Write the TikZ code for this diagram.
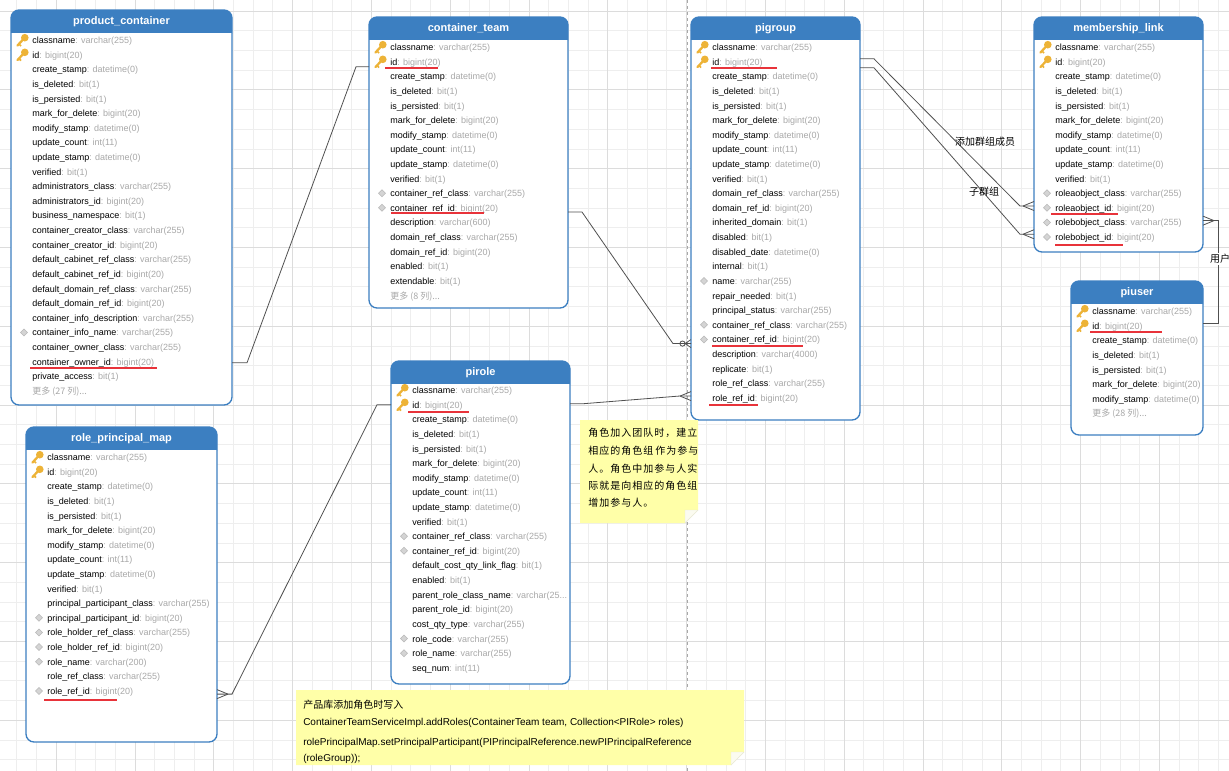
\documentclass[tikz,border=0pt]{standalone}
\usepackage{fontspec}
\setmainfont{Liberation Sans}
\newfontfamily\cjk{Noto Sans CJK SC}
\newfontfamily\cjksp[LetterSpace=10]{Noto Sans CJK SC}
\usetikzlibrary{calc}

\definecolor{erblue}{HTML}{3C7FC1}
\definecolor{typegrey}{HTML}{A8A8A8}
\definecolor{keygold}{HTML}{EDB337}
\definecolor{idxgrey}{HTML}{D4D4D4}
\definecolor{idxedge}{HTML}{B8B8B8}
\definecolor{notefill}{HTML}{FFFFA8}
\definecolor{notefold}{HTML}{FBFBF0}
\definecolor{linkgrey}{HTML}{505050}
\definecolor{ulred}{HTML}{E8333A}
\definecolor{gridminor}{HTML}{EEEEEE}
\definecolor{gridmajor}{HTML}{DCDCDC}
\definecolor{pagedash}{HTML}{A8A8A8}

\tikzset{
  rowtext/.style={anchor=mid west, inner sep=0pt, font=\fontsize{6.75pt}{8pt}\selectfont, text=black},
  tabletitle/.style={inner sep=0pt, font=\fontsize{8.25pt}{10pt}\selectfont\bfseries, text=white},
  conn/.style={draw=linkgrey, line width=0.6pt},
  redline/.style={draw=ulred, line width=1.5pt},
  notetext/.style={anchor=mid west, inner sep=0pt, font=\fontsize{7.5pt}{9pt}\selectfont, text=black},
  notecjk/.style={anchor=mid west, inner sep=0pt, font=\cjksp\fontsize{7.5pt}{9pt}\selectfont, text=black},
  edgelabel/.style={inner sep=1pt, font=\cjk\fontsize{7.5pt}{9pt}\selectfont, text=black},
}

% ---------- table frame: name, left, top, right, bottom, header bottom, title
\newcommand\ertable[7]{%
  \begin{scope}
    \clip (#2-2,#3-2) rectangle (#4+2,#6);
    \fill[erblue, rounded corners=6pt] (#2,#3) rectangle (#4,#5);
  \end{scope}
  \begin{scope}
    \clip (#2-2,#6) rectangle (#4+2,#5+2);
    \fill[white, rounded corners=6pt] (#2,#3) rectangle (#4,#5);
  \end{scope}
  \draw[erblue, line width=1pt, rounded corners=6pt] (#2,#3) rectangle (#4,#5);
  \node[inner sep=0pt, outer sep=0pt, minimum width={(#4-#2)*0.75pt},
        minimum height={(#5-#3)*0.75pt}, anchor=north west] (#1) at (#2,#3) {};
  \node[tabletitle] (#1-title) at ({(#2+#4)/2},{(#3+#6)/2}) {#7};
}

% ---------- rows
\newcounter{erow}
\newcommand\tblstart[3]{\gdef\tname{#1}\gdef\tleft{#2}\gdef\ttop{#3}\setcounter{erow}{0}}
\newcommand\rowat{\pgfmathsetmacro\ry{\ttop+\arabic{erow}*14.62}}
\newcommand\rowtxt[2]{%
  \node[rowtext] (\tname-\arabic{erow}) at (\tleft+21,\ry) {#1{\color{typegrey}: #2}};%
  \stepcounter{erow}}
\newcommand\keyicon[2]{%
  \draw[keygold, line width=1.7pt, line cap=round] (#1+12.5,#2-1) -- (#1+6.5,#2+5.5);
  \draw[keygold, line width=1.2pt] (#1+8,#2+4) -- (#1+10,#2+6);
  \fill[keygold] (#1+13.8,#2-2.3) circle[radius=3.8];}
\newcommand\idxicon[2]{%
  \filldraw[fill=idxgrey, draw=idxedge, line width=0.4pt]
    (#1+13,#2-3.5) -- (#1+16.5,#2) -- (#1+13,#2+3.5) -- (#1+9.5,#2) -- cycle;}
\newcommand\rowK[2]{\rowat\keyicon{\tleft}{\ry}\rowtxt{#1}{#2}}
\newcommand\rowD[2]{\rowat\idxicon{\tleft}{\ry}\rowtxt{#1}{#2}}
\newcommand\rowN[2]{\rowat\rowtxt{#1}{#2}}
\newcommand\rowM[1]{\rowat
  \node[rowtext, text=typegrey] (\tname-\arabic{erow}) at (\tleft+21,\ry) {\cjk #1};%
  \stepcounter{erow}}

% ---------- red underline under a row: row node, x offset, length, y offset
\newcommand\uline[4]{\draw[redline] (#1.mid west) ++(#2,#4) -- ++(#3,0);}

% ---------- crow's feet
\newcommand\crowleft[1]{\draw[conn] ($(#1)+(-11,0)$) -- ($(#1)+(0,-4.5)$)
  ($(#1)+(-11,0)$) -- ($(#1)+(0,4.5)$);}
\newcommand\crowright[1]{\draw[conn] ($(#1)+(11,0)$) -- ($(#1)+(0,-4.5)$)
  ($(#1)+(11,0)$) -- ($(#1)+(0,4.5)$);}

\begin{document}
\catcode`\_=12
\begin{tikzpicture}[x=0.75pt,y=-0.75pt]
\useasboundingbox (0,0) rectangle (1229,771);
\fill[white] (0,0) rectangle (1229,771);

% background grid
\foreach \i in {0,...,62} {\draw[gridminor, line width=0.6pt] (16.7+\i*19.7,0) -- (16.7+\i*19.7,771);}
\foreach \i in {0,...,39} {\draw[gridminor, line width=0.6pt] (0,11+\i*19.7) -- (1229,11+\i*19.7);}
\foreach \i in {0,...,15} {\draw[gridmajor, line width=0.6pt] (56.1+\i*78.8,0) -- (56.1+\i*78.8,771);}
\foreach \i in {0,...,9} {\draw[gridmajor, line width=0.6pt] (0,11+\i*78.8) -- (1229,11+\i*78.8);}

% page break
\draw[pagedash, line width=0.6pt, dash pattern=on 2.5pt off 2pt] (687,0) -- (687,771);

% ================= product_container
\ertable{pc}{11}{10}{232}{405}{33}{product_container}
\tblstart{pc}{11}{40}
\rowK{classname}{varchar(255)}
\rowK{id}{bigint(20)}
\rowN{create_stamp}{datetime(0)}
\rowN{is_deleted}{bit(1)}
\rowN{is_persisted}{bit(1)}
\rowN{mark_for_delete}{bigint(20)}
\rowN{modify_stamp}{datetime(0)}
\rowN{update_count}{int(11)}
\rowN{update_stamp}{datetime(0)}
\rowN{verified}{bit(1)}
\rowN{administrators_class}{varchar(255)}
\rowN{administrators_id}{bigint(20)}
\rowN{business_namespace}{bit(1)}
\rowN{container_creator_class}{varchar(255)}
\rowN{container_creator_id}{bigint(20)}
\rowN{default_cabinet_ref_class}{varchar(255)}
\rowN{default_cabinet_ref_id}{bigint(20)}
\rowN{default_domain_ref_class}{varchar(255)}
\rowN{default_domain_ref_id}{bigint(20)}
\rowN{container_info_description}{varchar(255)}
\rowD{container_info_name}{varchar(255)}
\rowN{container_owner_class}{varchar(255)}
\rowN{container_owner_id}{bigint(20)}
\rowN{private_access}{bit(1)}
\rowM{更多 (27 列)...}

% ================= container_team
\ertable{ct}{369}{17}{568}{308}{40}{container_team}
\tblstart{ct}{369}{47}
\rowK{classname}{varchar(255)}
\rowK{id}{bigint(20)}
\rowN{create_stamp}{datetime(0)}
\rowN{is_deleted}{bit(1)}
\rowN{is_persisted}{bit(1)}
\rowN{mark_for_delete}{bigint(20)}
\rowN{modify_stamp}{datetime(0)}
\rowN{update_count}{int(11)}
\rowN{update_stamp}{datetime(0)}
\rowN{verified}{bit(1)}
\rowD{container_ref_class}{varchar(255)}
\rowD{container_ref_id}{bigint(20)}
\rowN{description}{varchar(600)}
\rowN{domain_ref_class}{varchar(255)}
\rowN{domain_ref_id}{bigint(20)}
\rowN{enabled}{bit(1)}
\rowN{extendable}{bit(1)}
\rowM{更多 (8 列)...}

% ================= pigroup
\ertable{pg}{691}{17}{860}{420}{40}{pigroup}
\tblstart{pg}{691}{47}
\rowK{classname}{varchar(255)}
\rowK{id}{bigint(20)}
\rowN{create_stamp}{datetime(0)}
\rowN{is_deleted}{bit(1)}
\rowN{is_persisted}{bit(1)}
\rowN{mark_for_delete}{bigint(20)}
\rowN{modify_stamp}{datetime(0)}
\rowN{update_count}{int(11)}
\rowN{update_stamp}{datetime(0)}
\rowN{verified}{bit(1)}
\rowN{domain_ref_class}{varchar(255)}
\rowN{domain_ref_id}{bigint(20)}
\rowN{inherited_domain}{bit(1)}
\rowN{disabled}{bit(1)}
\rowN{disabled_date}{datetime(0)}
\rowN{internal}{bit(1)}
\rowD{name}{varchar(255)}
\rowN{repair_needed}{bit(1)}
\rowN{principal_status}{varchar(255)}
\rowD{container_ref_class}{varchar(255)}
\rowD{container_ref_id}{bigint(20)}
\rowN{description}{varchar(4000)}
\rowN{replicate}{bit(1)}
\rowN{role_ref_class}{varchar(255)}
\rowN{role_ref_id}{bigint(20)}

% ================= membership_link
\ertable{ml}{1034}{17}{1203}{252}{40}{membership_link}
\tblstart{ml}{1034}{47}
\rowK{classname}{varchar(255)}
\rowK{id}{bigint(20)}
\rowN{create_stamp}{datetime(0)}
\rowN{is_deleted}{bit(1)}
\rowN{is_persisted}{bit(1)}
\rowN{mark_for_delete}{bigint(20)}
\rowN{modify_stamp}{datetime(0)}
\rowN{update_count}{int(11)}
\rowN{update_stamp}{datetime(0)}
\rowN{verified}{bit(1)}
\rowD{roleaobject_class}{varchar(255)}
\rowD{roleaobject_id}{bigint(20)}
\rowD{rolebobject_class}{varchar(255)}
\rowD{rolebobject_id}{bigint(20)}

% ================= piuser
\ertable{pu}{1071}{281}{1203}{435}{304}{piuser}
\tblstart{pu}{1071}{311}
\rowK{classname}{varchar(255)}
\rowK{id}{bigint(20)}
\rowN{create_stamp}{datetime(0)}
\rowN{is_deleted}{bit(1)}
\rowN{is_persisted}{bit(1)}
\rowN{mark_for_delete}{bigint(20)}
\rowN{modify_stamp}{datetime(0)}
\rowM{更多 (28 列)...}

% ================= role_principal_map
\ertable{rp}{26}{427}{217}{742}{450}{role_principal_map}
\tblstart{rp}{26}{457}
\rowK{classname}{varchar(255)}
\rowK{id}{bigint(20)}
\rowN{create_stamp}{datetime(0)}
\rowN{is_deleted}{bit(1)}
\rowN{is_persisted}{bit(1)}
\rowN{mark_for_delete}{bigint(20)}
\rowN{modify_stamp}{datetime(0)}
\rowN{update_count}{int(11)}
\rowN{update_stamp}{datetime(0)}
\rowN{verified}{bit(1)}
\rowN{principal_participant_class}{varchar(255)}
\rowD{principal_participant_id}{bigint(20)}
\rowD{role_holder_ref_class}{varchar(255)}
\rowD{role_holder_ref_id}{bigint(20)}
\rowD{role_name}{varchar(200)}
\rowN{role_ref_class}{varchar(255)}
\rowD{role_ref_id}{bigint(20)}

% ================= pirole
\ertable{pr}{391}{361}{570}{684}{384}{pirole}
\tblstart{pr}{391}{390}
\rowK{classname}{varchar(255)}
\rowK{id}{bigint(20)}
\rowN{create_stamp}{datetime(0)}
\rowN{is_deleted}{bit(1)}
\rowN{is_persisted}{bit(1)}
\rowN{mark_for_delete}{bigint(20)}
\rowN{modify_stamp}{datetime(0)}
\rowN{update_count}{int(11)}
\rowN{update_stamp}{datetime(0)}
\rowN{verified}{bit(1)}
\rowD{container_ref_class}{varchar(255)}
\rowD{container_ref_id}{bigint(20)}
\rowN{default_cost_qty_link_flag}{bit(1)}
\rowN{enabled}{bit(1)}
\rowN{parent_role_class_name}{varchar(25...}
\rowN{parent_role_id}{bigint(20)}
\rowN{cost_qty_type}{varchar(255)}
\rowD{role_code}{varchar(255)}
\rowD{role_name}{varchar(255)}
\rowN{seq_num}{int(11)}

% ================= key columns marked in red
\uline{pc-22}{-2}{127}{6}
\uline{ct-1}{-5}{53}{6}
\uline{ct-11}{1}{93}{5}
\uline{pg-1}{-1}{66}{6}
\uline{pg-20}{0}{91}{7}
\uline{pg-24}{-3}{49}{7}
\uline{ml-11}{-4}{67}{6}
\uline{ml-13}{0}{68}{8}
\uline{pu-1}{-2}{72}{6}
\uline{rp-16}{-3}{73}{9}
\uline{pr-1}{-4}{61}{7}

% ================= relations
% product_container.container_owner_id -- container_team.id
\coordinate (a1) at (pc.east |- pc-22);
\coordinate (a2) at ($(ct.west |- ct-1)+(0,4)$);
\draw[conn] (a1) -- ++(15,0) -- ($(a2)+(-13,0)$) -- (a2);

% container_team.container_ref_id -- pigroup.container_ref_id
\coordinate (b1) at ($(ct.east |- ct-11)+(0,3)$);
\coordinate (b2) at ($(pg.west |- pg-20)+(0,3)$);
\draw[conn] (b1) -- ++(14,0) -- ($(b2)+(-18,0)$) -- (b2);
\draw[conn] ($(b2)+(-8.5,0)$) circle[radius=2.6];
\draw[conn] ($(b2)+(-6,0)$) -- ($(b2)+(0,-4)$) ($(b2)+(-6,0)$) -- ($(b2)+(0,4)$);

% pirole.id -- pigroup.role_ref_id
\coordinate (c1) at ($(pr.east |- pr-1)+(0,-2)$);
\coordinate (c2) at ($(pg.west |- pg-24)+(0,-3)$);
\draw[conn] (c1) -- ++(12,0) -- ($(c2)+(-12,0)$) -- (c2);
\crowleft{c2}

% role_principal_map.role_ref_id -- pirole.id
\coordinate (d1) at ($(rp.east |- rp-16)+(0,2)$);
\coordinate (d2) at ($(pr.west |- pr-1)+(0,-1)$);
\draw[conn] (d1) -- ++(15,0) -- ($(d2)+(-14,0)$) -- (d2);
\crowright{d1}

% pigroup.id -- membership_link.roleaobject_id / rolebobject_id
\coordinate (e1) at ($(pg.east |- pg-1)+(0,-4)$);
\coordinate (e2) at ($(pg.east |- pg-1)+(0,5)$);
\coordinate (e3) at ($(ml.west |- ml-11)+(0,-3)$);
\coordinate (e4) at ($(ml.west |- ml-13)+(0,-4)$);
\draw[conn] (e1) -- ++(14,0) -- ($(e3)+(-14,0)$) -- (e3);
\draw[conn] (e2) -- ++(14,0) -- ($(e4)+(-14,0)$) -- (e4);
\crowleft{e3}
\crowleft{e4}
\node[edgelabel] (l1) at (985,142) {添加群组成员};
\node[edgelabel] (l2) at (984,192) {子群组};

% membership_link.rolebobject_class -- piuser.id
\coordinate (f1) at ($(ml.east |- ml-12)+(0,-3)$);
\coordinate (f2) at ($(pu.east |- pu-1)+(0,-3)$);
\draw[conn] (f1) -- ++(15,0) |- (f2);
\crowright{f1}
\node[edgelabel, fill=white] (l3) at (1220,259) {用户};

% ================= notes
\fill[notefill] (580,420) -- (698,420) -- (698,510) -- (685,523) -- (580,523) -- cycle;
\filldraw[fill=notefold, draw=notefill!70!black!30, line width=0.3pt] (685,510) -- (698,510) -- (685,523) -- cycle;
\node[notecjk] (n1a) at (588,433) {角色加入团队时，建立};
\node[notecjk] (n1b) at (588,451) {相应的角色组\hspace{1.5pt}作为参与};
\node[notecjk] (n1c) at (588,469) {人。角色中加参与人实};
\node[notecjk] (n1d) at (588,486) {际就是向相应的角色组};
\node[notecjk] (n1e) at (588,503) {增加参与人。};

\fill[notefill] (296,690) -- (744,690) -- (744,752) -- (731,765) -- (296,765) -- cycle;
\filldraw[fill=notefold, draw=notefill!70!black!30, line width=0.3pt] (731,752) -- (744,752) -- (731,765) -- cycle;
\node[notetext, font=\cjk\fontsize{7.5pt}{9pt}\selectfont] (n2a) at (303,705) {产品库添加角色时写入};
\node[notetext] (n2b) at (303,722) {ContainerTeamServiceImpl.addRoles(ContainerTeam team, Collection<PIRole> roles)};
\node[notetext] (n2c) at (303,742) {rolePrincipalMap.setPrincipalParticipant(PIPrincipalReference.newPIPrincipalReference};
\node[notetext] (n2d) at (303,758) {(roleGroup));};

\end{tikzpicture}
\end{document}
